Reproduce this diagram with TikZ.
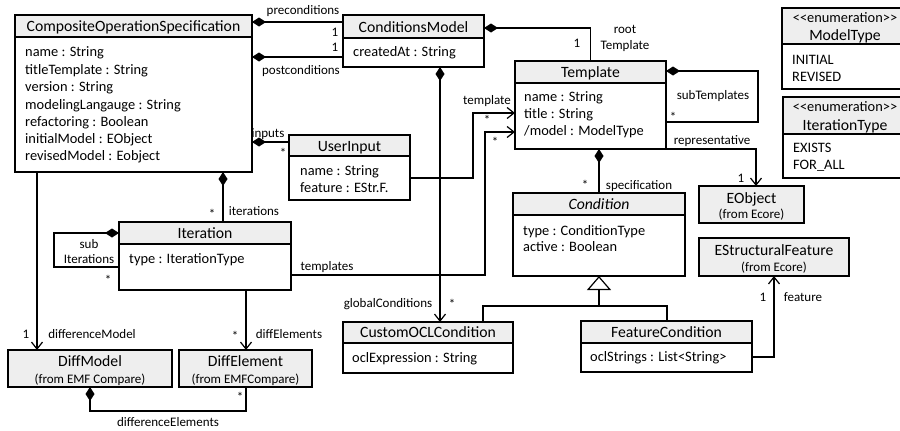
\documentclass[tikz,border=0pt]{standalone}
\usepackage{fontspec}
\setmainfont{Carlito}
\usetikzlibrary{arrows.meta}
\definecolor{hdrc}{RGB}{238,238,238}
\newcommand\fT{\fontsize{15.7}{18}\selectfont}
\newcommand\fA{\fontsize{14.4}{17}\selectfont}
\newcommand\fL{\fontsize{13}{15}\selectfont}
\newcommand\enumstereo{\textless{}\textless{}enumeration\textgreater{}\textgreater{}}
\newcommand\classhdr[2]{%
  \fill[hdrc] (#1.north west) rectangle ([yshift=-#2pt]#1.north east);
  \draw[ln] ([yshift=-#2pt]#1.north west) -- ([yshift=-#2pt]#1.north east);
  \draw[ln] (#1.north west) rectangle (#1.south east);}
\begin{document}
\begin{tikzpicture}[x=1pt,y=-1pt,
  ln/.style={line width=1.2pt},
  box/.style={draw,line width=1.2pt,fill=white,inner sep=0pt,outer sep=0pt,anchor=north west},
  gbox/.style={box,fill=hdrc},
  ttl/.style={font=\fT,inner sep=0pt,text height=10.1pt,text depth=0pt},
  sub/.style={font=\fL,inner sep=0pt,text height=8.4pt,text depth=0pt},
  attr/.style={font=\fA,inner sep=0pt,text height=9.3pt,text depth=0pt,anchor=west},
  etx/.style={font=\fA,inner sep=0pt,text height=9.3pt,text depth=0pt},
  lbl/.style={font=\fL,inner sep=0pt,text height=8.4pt,text depth=0pt},
  star/.style={lbl,yshift=-2.5pt},
  comp/.style={ln,{Diamond[length=14pt,width=9pt]}-},
  nav/.style={ln,-{Straight Barb[length=7pt,width=11pt]}},
  compnav/.style={ln,{Diamond[length=14pt,width=9pt]}-{Straight Barb[length=7pt,width=11pt]}}]
\useasboundingbox (0,0) rectangle (900,431);
\clip (0,0) rectangle (900,431);

% CompositeOperationSpecification
\node[box,minimum width=237pt,minimum height=157pt] (cos) at (15,15) {};
\classhdr{cos}{22}
\node[ttl] (cosT) at (133.5,26) {CompositeOperationSpecification};
\node[attr] (cosA1) at (25,52) {name : String};
\node[attr] (cosA2) at (25,70) {titleTemplate : String};
\node[attr] (cosA3) at (25,87) {version : String};
\node[attr] (cosA4) at (25,105) {modelingLangauge : String};
\node[attr] (cosA5) at (25,122) {refactoring : Boolean};
\node[attr] (cosA6) at (25,139) {initialModel : EObject};
\node[attr] (cosA7) at (25,156) {revisedModel : Eobject};

% ConditionsModel
\node[box,minimum width=141pt,minimum height=52pt] (cm) at (343,15) {};
\classhdr{cm}{23}
\node[ttl] (cmT) at (413.5,27) {ConditionsModel};
\node[attr] (cmA1) at (353,52) {createdAt : String};

% Template
\node[box,minimum width=151pt,minimum height=88pt] (tmpl) at (515,61) {};
\classhdr{tmpl}{22}
\node[ttl] (tmplT) at (590.5,72) {Template};
\node[attr] (tmplA1) at (524,97) {name : String};
\node[attr] (tmplA2) at (524,114) {title : String};
\node[attr] (tmplA3) at (524,131) {/model : ModelType};

% UserInput
\node[box,minimum width=121pt,minimum height=65pt] (ui) at (289,135) {};
\classhdr{ui}{21}
\node[ttl] (uiT) at (349.5,146) {UserInput};
\node[attr] (uiA1) at (300,171) {name : String};
\node[attr] (uiA2) at (300,188) {feature : EStr.F.};

% Iteration
\node[box,minimum width=172pt,minimum height=68pt] (iter) at (119,222) {};
\classhdr{iter}{22}
\node[ttl] (iterT) at (205,233) {Iteration};
\node[attr] (iterA1) at (129,259) {type : IterationType};

% Condition
\node[box,minimum width=172pt,minimum height=83pt] (cond) at (513,193) {};
\classhdr{cond}{22}
\node[ttl,font=\fT\itshape] (condT) at (599,204) {Condition};
\node[attr] (condA1) at (523,231) {type : ConditionType};
\node[attr] (condA2) at (523,247) {active : Boolean};

% CustomOCLCondition
\node[box,minimum width=170pt,minimum height=51pt] (ocl) at (343,322) {};
\classhdr{ocl}{21}
\node[ttl] (oclT) at (428,332) {CustomOCLCondition};
\node[attr] (oclA1) at (352,358) {oclExpression : String};

% FeatureCondition
\node[box,minimum width=171pt,minimum height=51pt] (fc) at (581,321) {};
\classhdr{fc}{22}
\node[ttl] (fcT) at (666.5,332) {FeatureCondition};
\node[attr] (fcA1) at (590,357) {oclStrings : List\textless String\textgreater};

% EObject
\node[gbox,minimum width=105pt,minimum height=37pt] (eobj) at (699,186) {};
\node[ttl] (eobjT) at (751.5,198) {EObject};
\node[sub] (eobjS) at (751.5,214) {(from Ecore)};

% EStructuralFeature
\node[gbox,minimum width=150pt,minimum height=38pt] (esf) at (699,238) {};
\node[ttl] (esfT) at (774,250) {EStructuralFeature};
\node[sub] (esfS) at (774,267) {(from Ecore)};

% DiffModel
\node[gbox,minimum width=164pt,minimum height=37pt] (dm) at (8,350) {};
\node[ttl] (dmT) at (90,361) {DiffModel};
\node[sub] (dmS) at (90,379) {(from EMF Compare)};

% DiffElement
\node[gbox,minimum width=133pt,minimum height=37pt] (de) at (179,350) {};
\node[ttl] (deT) at (245.5,361) {DiffElement};
\node[sub] (deS) at (245.5,379) {(from EMFCompare)};

% ModelType enumeration
\node[box,minimum width=126pt,minimum height=81pt] (mt) at (782,8) {};
\classhdr{mt}{36}
\node[etx] (mtS) at (845,18) {\enumstereo};
\node[ttl] (mtT) at (845,35) {ModelType};
\node[attr] (mtA1) at (792,60) {INITIAL};
\node[attr] (mtA2) at (792,77) {REVISED};

% IterationType enumeration
\node[box,minimum width=125pt,minimum height=81pt] (it) at (783,97) {};
\classhdr{it}{37}
\node[etx] (itS) at (845,107) {\enumstereo};
\node[ttl] (itT) at (845,125) {IterationType};
\node[attr] (itA1) at (793,148) {EXISTS};
\node[attr] (itA2) at (793,165) {FOR\_ALL};

% ---------- connectors ----------
\draw[comp] (cos.east |- 0,22) -- (cm.west |- 0,22);
\draw[comp] (cos.east |- 0,57) -- (cm.west |- 0,57);
\draw[comp] (cm.east |- 0,28) -| (tmpl.north);
\draw[comp] (tmpl.east |- 0,71) -- (758,71) -- (758,122) -- (tmpl.east |- 0,122);
\draw[nav] (tmpl.south east) -| ([xshift=4.5pt]eobj.north);
\draw[comp] (cos.east |- 0,142) -- (ui.west |- 0,142);
\draw[nav] (ui.east |- 0,178) -- (473,178) |- (tmpl.west |- 0,113);
\draw[nav] (iter.east |- 0,275) -- (485,275) |- (tmpl.west |- 0,132);
\draw[comp] (cos.south -| 223,0) -- (iter.north -| 223,0);
\draw[comp] (iter.west |- 0,233) -- (54,233) -- (54,267) -- (iter.west |- 0,267);
\draw[nav] (cos.south -| 37,0) -- (dm.north -| 37,0);
\draw[nav] (iter.south -| 246,0) -- (de.north -| 246,0);
\draw[comp] (dm.south -| 90,0) -- (90,411) -| (de.south -| 246,0);
\draw[compnav] (cm.south -| 440,0) -- (ocl.north -| 440,0);
\draw[comp] (tmpl.south -| 599,0) -- (cond.north -| 599,0);
\coordinate (gj) at (599,306);
\draw[ln,-{Triangle[open,length=14pt,width=24pt]}] (gj) -- (cond.south -| 599,0);
\draw[ln] (ocl.north -| 483,0) -- (483,306) -- (667,306) -- (fc.north -| 667,0);
\draw[nav] (fc.east |- 0,357) -| (esf.south);

% ---------- labels ----------
\node[lbl] (lpre) at (303,10) {preconditions};
\node[lbl] (m1) at (335,32) {1};
\node[lbl] (m2) at (335,47) {1};
\node[lbl] (lpost) at (301,70) {postconditions};
\node[lbl] (m3) at (577,43) {1};
\node[lbl] (lroot1) at (625,29) {root};
\node[lbl] (lroot2) at (625,45) {Template};
\node[lbl] (lsubT) at (713,95) {subTemplates};
\node[star] (s1) at (673,115) {*};
\node[lbl] (lrep) at (712,140) {representative};
\node[lbl] (m4) at (741,178) {1};
\node[lbl] (lin) at (268,133) {inputs};
\node[star] (s2) at (283,151) {*};
\node[lbl] (ltpl) at (487,100) {template};
\node[star] (s3) at (487,118) {*};
\node[lbl] (ltpls) at (327,266) {templates};
\node[star] (s4) at (495,140) {*};
\node[star] (s5) at (212,212) {*};
\node[lbl] (lit) at (254,211) {iterations};
\node[lbl] (lsub1) at (89,244) {sub};
\node[lbl] (lsub2) at (89,259) {Iterations};
\node[star] (s6) at (108,278) {*};
\node[lbl] (m5) at (26,334) {1};
\node[lbl] (ldm) at (92,334) {differenceModel};
\node[star] (s7) at (235,334) {*};
\node[lbl] (lde) at (289,334) {diffElements};
\node[star] (s8) at (240,395) {*};
\node[lbl] (ldes) at (168,422) {differenceElements};
\node[lbl] (lgc) at (388,303) {globalConditions};
\node[star] (s9) at (452,302) {*};
\node[star] (s10) at (585,183) {*};
\node[lbl] (lspec) at (639,185) {specification};
\node[lbl] (m6) at (763,297) {1};
\node[lbl] (lfeat) at (803,297) {feature};
\end{tikzpicture}
\end{document}
